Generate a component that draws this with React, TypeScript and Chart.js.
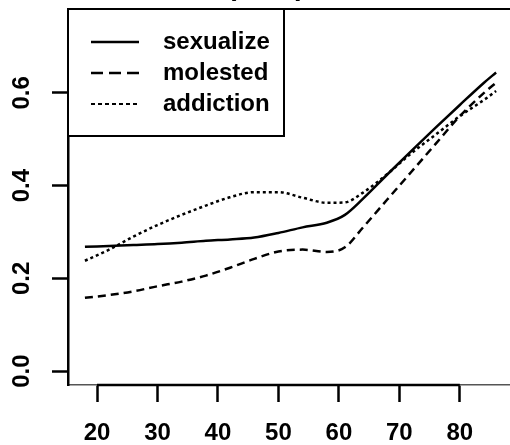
import React, { useEffect, useRef } from "react";
import { Chart, registerables } from "chart.js";

Chart.register(...registerables);

const ages = [18, 22, 26, 30, 34, 38, 42, 46, 50, 54, 58, 61, 64, 68, 72, 76, 80, 84, 86];
const sexualize = [0.268, 0.27, 0.272, 0.274, 0.277, 0.281, 0.284, 0.288, 0.298, 0.31, 0.32, 0.337, 0.372, 0.424, 0.475, 0.525, 0.574, 0.622, 0.644];
const molested = [0.158, 0.164, 0.172, 0.183, 0.193, 0.206, 0.223, 0.242, 0.258, 0.262, 0.257, 0.267, 0.31, 0.37, 0.43, 0.49, 0.55, 0.6, 0.622];
const addiction = [0.238, 0.262, 0.29, 0.315, 0.337, 0.357, 0.375, 0.386, 0.386, 0.374, 0.363, 0.364, 0.385, 0.425, 0.47, 0.51, 0.55, 0.585, 0.604];

const seriesNames = ["sexualize", "molested", "addiction"];
const seriesDashes: number[][] = [[], [8, 5], [3, 3]];
const legendDashes: number[][] = [[], [12, 6], [4, 3]];
const xTicks = [20, 30, 40, 50, 60, 70, 80];
const yTicks = [0, 0.2, 0.4, 0.6];
const titleText = "(total)";

const FONT = "'Liberation Sans', Arial, Helvetica, sans-serif";

export default function App() {
  const ref = useRef<HTMLCanvasElement | null>(null);

  useEffect(() => {
    document.body.style.margin = "0";
    const canvas = ref.current;
    if (!canvas) return;

    const allSeries = [sexualize, molested, addiction];

    const framePlugin = {
      id: "framePlugin",
      afterDraw(chart: any) {
        const ctx = chart.ctx;
        const area = chart.chartArea;
        const xs = chart.scales.x;
        ctx.save();
        // title (mostly above the canvas)
        ctx.fillStyle = "#000";
        ctx.font = `bold 28px ${FONT}`;
        ctx.textAlign = "center";
        ctx.textBaseline = "alphabetic";
        ctx.fillText(titleText, 266, -5);
        // top frame line
        ctx.strokeStyle = "#000";
        ctx.lineWidth = 2;
        ctx.beginPath();
        ctx.moveTo(area.left, area.top);
        ctx.lineTo(area.right, area.top);
        ctx.stroke();
        // thick x axis segment
        ctx.lineWidth = 2.5;
        ctx.beginPath();
        ctx.moveTo(xs.getPixelForValue(xTicks[0]), area.bottom);
        ctx.lineTo(xs.getPixelForValue(xTicks[xTicks.length - 1]), area.bottom);
        ctx.stroke();
        // legend
        const lx = area.left, ly = area.top, lw = 216, lh = 127;
        ctx.fillStyle = "#fff";
        ctx.fillRect(lx, ly, lw, lh);
        ctx.lineWidth = 2;
        ctx.strokeStyle = "#000";
        ctx.strokeRect(lx, ly, lw, lh);
        chart.data.datasets.forEach((ds: any, i: number) => {
          const y = ly + 33 + i * 31;
          ctx.setLineDash(legendDashes[i]);
          ctx.lineWidth = i === 2 ? 2 : 2.5;
          ctx.beginPath();
          ctx.moveTo(lx + 23, y);
          ctx.lineTo(lx + 71, y);
          ctx.stroke();
          ctx.setLineDash([]);
          ctx.fillStyle = "#000";
          ctx.font = `bold 24px ${FONT}`;
          ctx.textAlign = "left";
          ctx.textBaseline = "middle";
          ctx.fillText(ds.label, lx + 95, y);
        });
        ctx.restore();
      },
    };

    const chart = new Chart(canvas, {
      type: "line",
      data: {
        datasets: seriesNames.map((name, i) => ({
          label: name,
          data: ages.map((a, j) => ({ x: a, y: allSeries[i][j] })),
          borderColor: "#000",
          borderWidth: 2.5,
          borderDash: seriesDashes[i],
          pointRadius: 0,
          tension: 0.4,
          cubicInterpolationMode: "monotone" as const,
          fill: false,
        })),
      },
      options: {
        animation: false,
        responsive: false,
        maintainAspectRatio: false,
        layout: { padding: { top: 9, left: 0, right: 0, bottom: 0 } },
        plugins: {
          legend: { display: false },
          tooltip: { enabled: false },
          title: { display: false },
        },
        scales: {
          x: {
            type: "linear",
            min: 15.2,
            max: 88.3,
            afterBuildTicks: (s: any) => {
              s.ticks = xTicks.map((v) => ({ value: v }));
            },
            afterFit: (s: any) => {
              s.height = 60;
              s.paddingLeft = 0;
              s.paddingRight = 0;
            },
            border: { display: true, color: "#555", width: 1.5 },
            grid: {
              drawOnChartArea: false,
              drawTicks: true,
              tickLength: 17,
              tickColor: "#000",
              tickWidth: 2.5,
            },
            ticks: {
              color: "#000",
              font: { family: FONT, size: 24, weight: "bold" },
              padding: 17,
              maxRotation: 0,
              minRotation: 0,
              callback: (v: any) => String(v),
            },
          },
          y: {
            type: "linear",
            min: -0.03,
            max: 0.781,
            afterBuildTicks: (s: any) => {
              s.ticks = yTicks.map((v) => ({ value: v }));
            },
            afterFit: (s: any) => {
              s.width = 68;
              s.paddingTop = 0;
              s.paddingBottom = 0;
            },
            border: { display: true, color: "#000", width: 2.5 },
            grid: {
              drawOnChartArea: false,
              drawTicks: true,
              tickLength: 16,
              tickColor: "#000",
              tickWidth: 2.5,
            },
            ticks: {
              color: "#000",
              font: { family: FONT, size: 24, weight: "bold" },
              padding: 13,
              minRotation: 90,
              maxRotation: 90,
              crossAlign: "center",
              callback: (v: any) => Number(v).toFixed(1),
            },
          },
        },
      },
      plugins: [framePlugin],
    } as any);

    return () => chart.destroy();
  }, []);

  return <canvas ref={ref} width={510} height={445} style={{ display: "block" }} />;
}
